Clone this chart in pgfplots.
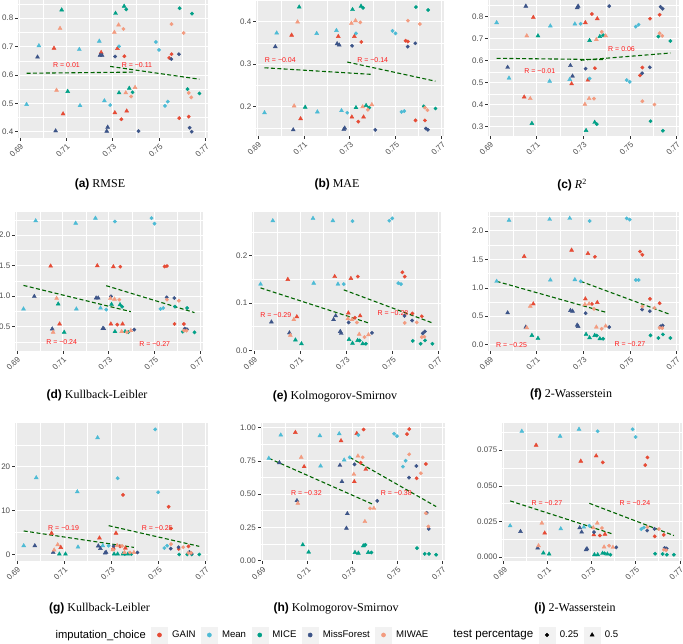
\documentclass[border=0pt]{standalone}
\usepackage{pgfplots}
\usepackage{pgfplotstable}
\pgfplotsset{compat=1.18}
\usepackage{fontspec}
\setmainfont{Liberation Serif}
\newfontfamily\ggf{Liberation Sans}

\definecolor{cGAIN}{HTML}{E64B35}
\definecolor{cMean}{HTML}{4DBBD5}
\definecolor{cMICE}{HTML}{00A087}
\definecolor{cMF}{HTML}{3C5488}
\definecolor{cMIWAE}{HTML}{F39B7F}
\definecolor{ggbg}{HTML}{EBEBEB}
\definecolor{ggkey}{HTML}{F2F2F2}
\definecolor{ggtext}{HTML}{4D4D4D}
\definecolor{ggtick}{HTML}{333333}
\definecolor{darkfit}{HTML}{006400}
\definecolor{rred}{HTML}{FF1A1A}

% one row per model/dataset; columns a..i = the nine panels
\pgfplotstableread{
x      cls a     b     c     d     e     f     g     h     i
0.7047 GT  0.694 0.368 0.435 1.493 0.150 1.551 4.9   0.965 0.0785
0.7086 GT  0.463 0.172 0.797 0.543 0.071 0.717 1.66  0.707 0.0168
0.7250 GT  0.679 0.365 0.495 1.498 0.156 1.662 3.8   0.902 0.0673
0.7309 GT  0.467 0.176 0.773 0.543 0.079 0.805 1.5   0.594 0.0156
0.7320 GT  0.693 0.365 0.512 1.482 0.152 1.603 4.9   0.957 0.0710
0.7360 GT  0.473 0.176 0.791 0.543 0.073 0.741 1.5   0.687 0.0160
0.7337 GC  0.444 0.165 0.812 0.532 0.069 0.717 1.9   0.737 0.0151
0.7350 GC  0.666 0.352 0.566 1.482 0.156 1.545 13.6  0.987 0.0664
0.7543 GC  0.660 0.355 0.533 1.487 0.165 1.638 10.9  0.952 0.0645
0.7553 GC  0.673 0.353 0.569 1.493 0.156 1.580 6.0   0.990 0.0699
0.7586 GC  0.448 0.168 0.791 0.543 0.078 0.805 1.3   0.619 0.0145
0.7627 GC  0.453 0.168 0.809 0.543 0.072 0.729 1.9   0.727 0.0156
0.6929 MT  0.496 0.186 0.773 0.789 0.140 1.114 2.04  0.770 0.0219
0.6982 MT  0.703 0.373 0.521 2.235 0.274 2.187 17.5  0.945 0.0883
0.7156 MT  0.690 0.372 0.507 2.196 0.279 2.204 14.3  0.940 0.0848
0.7159 MT  0.492 0.188 0.758 0.789 0.142 1.137 1.74  0.712 0.0198
0.7242 MT  0.719 0.379 0.515 2.278 0.274 2.222 26.6  0.955 0.0897
0.7264 MT  0.509 0.191 0.767 0.805 0.140 1.143 2.04  0.757 0.0210
0.7289 MC  0.494 0.186 0.768 0.778 0.140 1.114 2.04  0.777 0.0219
0.7327 MC  0.701 0.372 0.519 2.224 0.273 2.175 17.4  0.945 0.0883
0.7486 MC  0.716 0.378 0.512 2.278 0.274 2.220 28.5  0.955 0.0897
0.7499 MC  0.688 0.372 0.504 2.190 0.279 2.200 14.2  0.937 0.0843
0.7525 MC  0.491 0.188 0.755 0.789 0.142 1.137 1.5   0.707 0.0196
0.7537 MC  0.506 0.190 0.764 0.805 0.140 1.137 2.04  0.752 0.0207
0.7080 IT  0.829 0.434 0.315 0.871 0.022 0.163 0.15  0.118 0.0028
0.7106 IT  0.542 0.199 0.713 0.407 0.014 0.111 0.15  0.063 0.0021
0.7312 IT  0.817 0.428 0.283 0.865 0.023 0.181 0.15  0.060 0.0016
0.7327 IT  0.537 0.198 0.692 0.418 0.015 0.122 0.15  0.055 0.0016
0.7349 IT  0.842 0.436 0.320 0.860 0.021 0.163 0.15  0.110 0.0026
0.7371 IT  0.553 0.203 0.710 0.418 0.014 0.105 0.15  0.060 0.0021
0.7358 IC  0.831 0.432 0.312 0.827 0.021 0.160 0.15  0.118 0.0026
0.7385 IC  0.539 0.198 0.716 0.410 0.014 0.105 0.15  0.060 0.0016
0.7588 IC  0.835 0.434 0.325 0.827 0.020 0.163 0.05  0.093 0.0023
0.7622 IC  0.550 0.201 0.710 0.418 0.014 0.117 0.05  0.050 0.0021
0.7641 IC  0.816 0.427 0.282 0.805 0.021 0.181 0.05  0.050 0.0016
0.7673 IC  0.535 0.196 0.690 0.407 0.014 0.117 0.05  0.043 0.0016
0.6976 FT  0.663 0.341 0.570 0.996 0.060 0.560 2.04  0.737 0.0179
0.7054 FT  0.403 0.146 0.848 0.462 0.037 0.309 0.53  0.451 0.0063
0.7245 FT  0.669 0.348 0.578 0.969 0.065 0.601 2.0   0.717 0.0205
0.7254 FT  0.669 0.345 0.530 0.969 0.073 0.589 1.4   0.594 0.0175
0.7274 FT  0.402 0.147 0.841 0.467 0.040 0.344 0.38  0.243 0.0051
0.7278 FT  0.416 0.150 0.848 0.467 0.036 0.321 0.53  0.353 0.0058
0.7310 FC  0.665 0.343 0.564 0.996 0.059 0.554 1.9   0.724 0.0175
0.7411 FC  0.402 0.146 0.848 0.451 0.037 0.309 0.5   0.449 0.0068
0.7552 FC  0.656 0.341 0.543 0.980 0.073 0.618 1.4   0.624 0.0186
0.7585 FC  0.673 0.349 0.570 0.969 0.063 0.589 1.7   0.712 0.0198
0.7631 FC  0.414 0.149 0.845 0.467 0.036 0.321 0.6   0.358 0.0063
0.7640 FC  0.400 0.146 0.836 0.456 0.040 0.338 0.3   0.238 0.0060
0.7058 WT  0.546 0.202 0.713 0.407 0.032 0.297 1.06  0.431 0.0079
0.7073 WT  0.764 0.399 0.428 0.963 0.065 0.676 2.26  0.777 0.0238
0.7307 WT  0.750 0.396 0.402 0.963 0.067 0.706 1.1   0.649 0.0205
0.7325 WT  0.776 0.402 0.428 0.950 0.065 0.717 2.1   0.787 0.0238
0.7356 WT  0.537 0.200 0.696 0.418 0.034 0.309 0.5   0.293 0.0070
0.7396 WT  0.556 0.205 0.713 0.434 0.033 0.327 0.5   0.393 0.0068
0.7346 WC  0.762 0.398 0.428 0.942 0.059 0.630 2.0   0.777 0.0203
0.7379 WC  0.524 0.193 0.731 0.407 0.028 0.280 0.5   0.393 0.0079
0.7553 WC  0.779 0.402 0.416 0.942 0.058 0.670 2.4   0.800 0.0210
0.7605 WC  0.748 0.394 0.401 0.925 0.059 0.647 1.7   0.657 0.0196
0.7627 WC  0.537 0.198 0.725 0.434 0.028 0.297 0.4   0.356 0.0051
0.7638 WC  0.521 0.192 0.713 0.434 0.029 0.291 0.4   0.256 0.0047
}\tab

\tikzset{rlab/.style={font=\ggf\fontsize{7}{8}\selectfont, text=rred}}

\pgfplotsset{
  gg/.style={
    scale only axis, anchor=south west,
    xmin=0.6892, xmax=0.7710,
    axis background/.style={fill=ggbg},
    axis line style={draw=none},
    tick pos=left, tick align=outside,
    major tick length=2.6pt, minor tick length=0pt,
    tick style={ggtick, line width=0.6pt},
    xtick={0.69,0.71,0.73,0.75,0.77},
    xticklabels={0.69,0.71,0.73,0.75,0.77},
    minor xtick={0.70,0.72,0.74,0.76},
    xmajorgrids, ymajorgrids, xminorgrids, yminorgrids,
    major grid style={white, line width=0.9pt},
    minor grid style={white, line width=0.45pt},
    scaled ticks=false,
    ticklabel style={font=\ggf\fontsize{8}{9}\selectfont, text=ggtext},
    x tick label style={rotate=45, anchor=north east, inner sep=1.5pt},
    y tick label style={inner sep=2pt},
  },
  pts/.style={scatter, only marks, scatter src=explicit symbolic,
    scatter/classes={
      GT={mark=triangle*, mark size=2.3pt, cGAIN},
      GC={mark=*, mark size=1.7pt, cGAIN},
      MT={mark=triangle*, mark size=2.3pt, cMean},
      MC={mark=*, mark size=1.7pt, cMean},
      IT={mark=triangle*, mark size=2.3pt, cMICE},
      IC={mark=*, mark size=1.7pt, cMICE},
      FT={mark=triangle*, mark size=2.3pt, cMF},
      FC={mark=*, mark size=1.7pt, cMF},
      WT={mark=triangle*, mark size=2.3pt, cMIWAE},
      WC={mark=*, mark size=1.7pt, cMIWAE}}},
  fit/.style={darkfit, line width=1.1pt, dash pattern=on 4pt off 2.4pt, mark=none},
  lkey/.style={only marks, mark size=2.1pt,
    legend image code/.code={\fill[ggkey] (0pt,-8pt) rectangle (16pt,8pt);
      \draw[##1] plot coordinates {(8pt,0pt)};}},
}
\newcommand{\subcap}[3]{\node[font=\fontsize{12}{14}\selectfont] at (#1,#2) {#3};}

\begin{document}
\begin{tikzpicture}[x=1pt,y=1pt]

% (a) RMSE
\begin{axis}[gg, at={(18pt,506pt)}, width=190pt, height=138pt, ymin=0.378, ymax=0.864,
  ytick={0.4,0.5,0.6,0.7,0.8}, yticklabels={0.4,0.5,0.6,0.7,0.8},
  minor ytick={0.45,0.55,0.65,0.75,0.85}]
\addplot[pts] table[x=x,y=a,meta=cls]{\tab};
\addplot[fit] coordinates {(0.6929,0.606) (0.7396,0.610)};
\addplot[fit] coordinates {(0.7289,0.630) (0.7673,0.585)};
\node[rlab] at (axis cs:0.7101,0.634) {R = 0.01};
\node[rlab] at (axis cs:0.7404,0.634) {R = −0.11};
\end{axis}

% (b) MAE
\begin{axis}[gg, at={(256pt,508pt)}, width=188pt, height=136pt, ymin=0.1315, ymax=0.4505,
  ytick={0.2,0.3,0.4}, yticklabels={0.2,0.3,0.4},
  minor ytick={0.15,0.25,0.35,0.45}]
\addplot[pts] table[x=x,y=b,meta=cls]{\tab};
\addplot[fit] coordinates {(0.6929,0.2915) (0.7396,0.276)};
\addplot[fit] coordinates {(0.7289,0.305) (0.7673,0.260)};
\node[rlab] at (axis cs:0.6998,0.310) {R = −0.04};
\node[rlab] at (axis cs:0.7400,0.310) {R = −0.14};
\end{axis}

% (c) R2
\begin{axis}[gg, at={(488pt,508pt)}, width=191pt, height=136pt, ymin=0.258, ymax=0.876,
  ytick={0.3,0.4,0.5,0.6,0.7,0.8}, yticklabels={0.3,0.4,0.5,0.6,0.7,0.8},
  minor ytick={0.35,0.45,0.55,0.65,0.75,0.85}]
\addplot[pts] table[x=x,y=c,meta=cls]{\tab};
\addplot[fit] coordinates {(0.6929,0.611) (0.7396,0.605)};
\addplot[fit] coordinates {(0.7289,0.602) (0.7673,0.635)};
\node[rlab] at (axis cs:0.7114,0.554) {R = −0.01};
\node[rlab] at (axis cs:0.7464,0.653) {R = 0.06};
\end{axis}

% (d) Kullback-Leibler
\begin{axis}[gg, at={(15pt,293pt)}, width=188pt, height=139pt, ymin=0.10, ymax=2.38,
  ytick={0.5,1.0,1.5,2.0}, yticklabels={0.5,1.0,1.5,2.0},
  minor ytick={0.25,0.75,1.25,1.75,2.25}]
\addplot[pts] table[x=x,y=d,meta=cls]{\tab};
\addplot[fit] coordinates {(0.6929,1.176) (0.7396,0.745)};
\addplot[fit] coordinates {(0.7289,1.171) (0.7673,0.730)};
\node[rlab] at (axis cs:0.7095,0.254) {R = −0.24};
\node[rlab] at (axis cs:0.7500,0.205) {R = −0.27};
\end{axis}

% (e) Kolmogorov-Smirnov
\begin{axis}[gg, at={(252pt,293pt)}, width=189pt, height=139pt, ymin=-0.0013, ymax=0.2925,
  ytick={0,0.1,0.2}, yticklabels={0.0,0.1,0.2},
  minor ytick={0.05,0.15,0.25}]
\addplot[pts] table[x=x,y=e,meta=cls]{\tab};
\addplot[fit] coordinates {(0.6929,0.132) (0.7396,0.058)};
\addplot[fit] coordinates {(0.7289,0.128) (0.7673,0.058)};
\node[rlab] at (axis cs:0.6995,0.075) {R = −0.29};
\node[rlab] at (axis cs:0.7502,0.079) {R = −0.28};
\end{axis}

% (f) 2-Wasserstein
\begin{axis}[gg, at={(488pt,293pt)}, width=191pt, height=139pt, ymin=-0.111, ymax=2.333,
  ytick={0,0.5,1,1.5,2}, yticklabels={0.0,0.5,1.0,1.5,2.0},
  minor ytick={0.25,0.75,1.25,1.75,2.25}]
\addplot[pts] table[x=x,y=f,meta=cls]{\tab};
\addplot[fit] coordinates {(0.6929,1.114) (0.7396,0.571)};
\addplot[fit] coordinates {(0.7289,1.114) (0.7673,0.530)};
\node[rlab] at (axis cs:0.6993,0.0) {R = −0.25};
\node[rlab] at (axis cs:0.7500,0.006) {R = −0.27};
\end{axis}

% (g) Kullback-Leibler
\begin{axis}[gg, at={(15pt,83pt)}, width=193pt, height=138pt, ymin=-1.43, ymax=29.95,
  ytick={0,10,20}, yticklabels={0,10,20},
  minor ytick={5,15,25}]
\addplot[pts] table[x=x,y=g,meta=cls]{\tab};
\addplot[fit] coordinates {(0.6929,5.4) (0.7396,1.66)};
\addplot[fit] coordinates {(0.7289,6.6) (0.7673,1.9)};
\node[rlab] at (axis cs:0.7098,6.0) {R = −0.19};
\node[rlab] at (axis cs:0.7495,6.0) {R = −0.25};
\end{axis}

% (h) Kolmogorov-Smirnov
\begin{axis}[gg, at={(260.5pt,83pt)}, width=184pt, height=138pt, ymin=-0.004, ymax=1.036,
  ytick={0,0.25,0.5,0.75,1}, yticklabels={0.00,0.25,0.50,0.75,1.00},
  minor ytick={0.125,0.375,0.625,0.875}]
\addplot[pts] table[x=x,y=h,meta=cls]{\tab};
\addplot[fit] coordinates {(0.6929,0.770) (0.7396,0.420)};
\addplot[fit] coordinates {(0.7289,0.777) (0.7673,0.406)};
\node[rlab] at (axis cs:0.7096,0.51) {R = −0.32};
\node[rlab] at (axis cs:0.7496,0.51) {R = −0.38};
\end{axis}

% (i) 2-Wasserstein
\begin{axis}[gg, at={(502pt,83pt)}, width=180pt, height=138pt, ymin=-0.0028, ymax=0.0941,
  ytick={0,0.025,0.05,0.075}, yticklabels={0.000,0.025,0.050,0.075},
  minor ytick={0.0125,0.0375,0.0625,0.0875}]
\addplot[pts] table[x=x,y=i,meta=cls]{\tab};
\addplot[fit] coordinates {(0.6929,0.0394) (0.7396,0.0161)};
\addplot[fit] coordinates {(0.7289,0.0377) (0.7673,0.0151)};
\node[rlab] at (axis cs:0.7096,0.0382) {R = −0.27};
\node[rlab] at (axis cs:0.7496,0.0382) {R = −0.24};
\end{axis}

% legend
\begin{axis}[at={(0pt,0pt)}, anchor=south west, scale only axis, width=683pt, height=18pt,
  hide axis, xmin=0, xmax=1, ymin=0, ymax=1,
  legend style={at={(0.07,0.5)}, anchor=west, draw=none, fill=none,
    legend columns=-1, font=\ggf\fontsize{9.6}{11}\selectfont,
    /tikz/every odd column/.append style={column sep=2.5pt},
    /tikz/every even column/.append style={column sep=3.5pt}},
  legend cell align=left]
\addlegendimage{empty legend}
\addlegendentry{\fontsize{11.2}{13}\selectfont imputation\_choice}
\addlegendimage{lkey, mark=*, cGAIN}\addlegendentry{GAIN}
\addlegendimage{lkey, mark=*, cMean}\addlegendentry{Mean}
\addlegendimage{lkey, mark=*, cMICE}\addlegendentry{MICE}
\addlegendimage{lkey, mark=*, cMF}\addlegendentry{MissForest}
\addlegendimage{lkey, mark=*, cMIWAE}\addlegendentry{MIWAE}
\addlegendimage{empty legend}
\addlegendentry{\hspace*{15pt}\fontsize{11.6}{13}\selectfont test percentage}
\addlegendimage{lkey, mark=*, mark size=1.8pt, black}\addlegendentry{0.25}
\addlegendimage{lkey, mark=triangle*, mark size=2.4pt, black}\addlegendentry{0.5}
\end{axis}

% captions
\subcap{100}{460}{{\ggf\bfseries (a)} RMSE}
\subcap{337}{460}{{\ggf\bfseries (b)} MAE}
\subcap{572}{459}{{\ggf\bfseries (c)} \textit{R}\textsuperscript{2}}
\subcap{97}{249}{{\ggf\bfseries (d)} Kullback-Leibler}
\subcap{335}{248}{{\ggf\bfseries (e)} Kolmogorov-Smirnov}
\subcap{571}{250}{{\ggf\bfseries (f)} 2-Wasserstein}
\subcap{99.5}{36}{{\ggf\bfseries (g)} Kullback-Leibler}
\subcap{336}{36}{{\ggf\bfseries (h)} Kolmogorov-Smirnov}
\subcap{575}{36}{{\ggf\bfseries (i)} 2-Wasserstein}

\pgfresetboundingbox
\path[use as bounding box] (0,0) rectangle (683,644);
\end{tikzpicture}
\end{document}
